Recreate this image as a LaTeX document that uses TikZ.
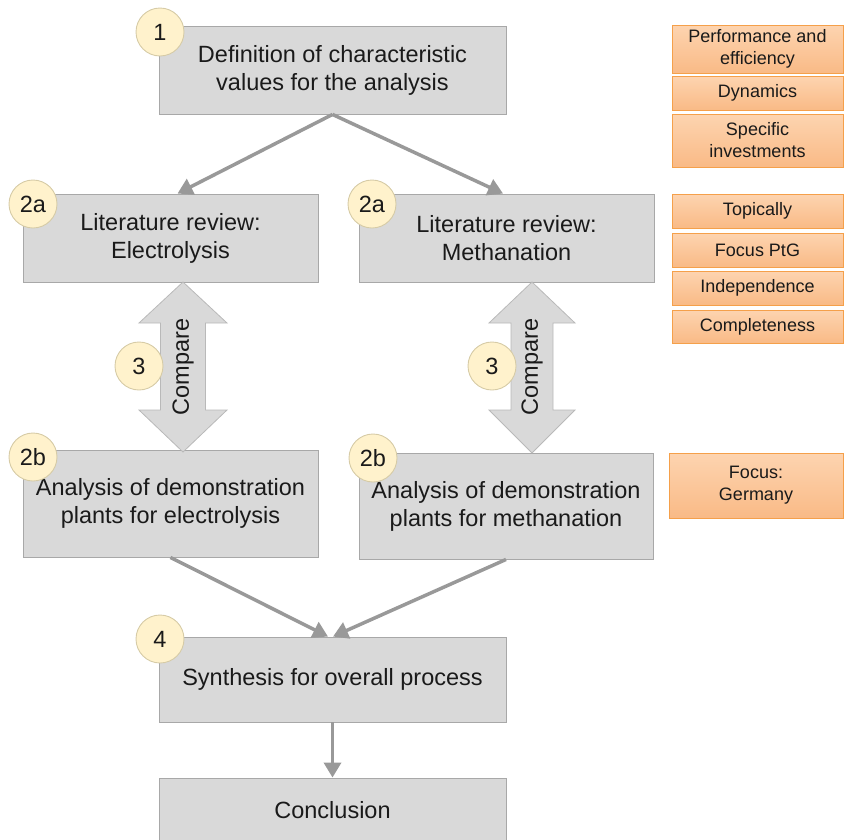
\documentclass[tikz,border=0pt]{standalone}
\usepackage{fontspec}
\setmainfont{Liberation Sans}
\usetikzlibrary{arrows.meta}
\definecolor{boxfill}{HTML}{D9D9D9}
\definecolor{boxline}{HTML}{A8A8A8}
\definecolor{circfill}{HTML}{FFF2CC}
\definecolor{circline}{HTML}{D6CBA6}
\definecolor{arrowcol}{HTML}{999999}
\definecolor{orline}{HTML}{F5A04A}
\definecolor{ortop}{HTML}{FDD4B0}
\definecolor{orbot}{HTML}{F9BA86}
\definecolor{txt}{HTML}{1A1A1A}
\tikzset{
  graybox/.style={draw=boxline, line width=0.9pt, fill=boxfill, inner sep=0pt, align=center,
    text=txt, font=\fontsize{23.5}{28}\selectfont},
  numcirc/.style={circle, draw=circline, line width=0.9pt, fill=circfill, minimum size=48pt,
    inner sep=0pt, text=txt, font=\fontsize{23.5}{28}\selectfont},
  orbox/.style={draw=orline, line width=0.9pt, top color=ortop, bottom color=orbot, inner sep=0pt,
    align=center, text=txt, font=\fontsize{18}{22}\selectfont},
  flow/.style={draw=arrowcol, line width=3.5pt, -{Triangle[length=15pt,width=17pt]}},
  dblarrow/.style={draw=boxline!80, line width=0.8pt, fill=boxfill},
  cmp/.style={rotate=90, text=txt, font=\fontsize{23.5}{28}\selectfont, inner sep=0pt}
}
\begin{document}
\begin{tikzpicture}[x=1pt,y=-1pt]
\useasboundingbox (0,0) rectangle (844,839);
% main boxes
\node[graybox, minimum width=347pt, minimum height=88pt] (b1) at (332.5,70) {Definition of characteristic\\values for the analysis};
\node[graybox, minimum width=295pt, minimum height=88pt] (b2al) at (170.5,238) {Literature review:\\Electrolysis};
\node[graybox, minimum width=295pt, minimum height=88pt] (b2ar) at (506.5,238) {Literature review:\\Methanation};
\node[graybox, minimum width=295pt, minimum height=107pt] (b2bl) at (170.5,503.5) {Analysis of demonstration\\plants for electrolysis};
\node[graybox, minimum width=294pt, minimum height=106pt] (b2br) at (506,506) {Analysis of demonstration\\plants for methanation};
\node[graybox, minimum width=347pt, minimum height=85pt] (b4) at (332.5,679.5) {Synthesis for overall process};
\node[graybox, minimum width=347pt, minimum height=64pt] (b5) at (332.5,810) {Conclusion};
% connectors
\draw[flow] (b1.south) -- ([xshift=7pt]b2al.north);
\draw[flow] (b1.south) -- ([xshift=-3.5pt]b2ar.north);
\draw[flow] (b2bl.south) -- ([xshift=-4.5pt]b4.north);
\draw[flow] (b2br.south) -- ([xshift=0.5pt]b4.north);
\draw[flow] (b4.south) -- (b5.north);
% compare double arrows
\draw[dblarrow] (183,282) -- (227,323) -- (205.5,323) -- (205.5,410) -- (227,410) -- (183,452)
  -- (139,410) -- (160.5,410) -- (160.5,323) -- (139,323) -- cycle;
\node[cmp] (cmpl) at (183,367) {Compare};
\draw[dblarrow] (532,282) -- (575,323) -- (553,323) -- (553,410) -- (575,410) -- (532,453)
  -- (489,410) -- (511,410) -- (511,323) -- (489,323) -- cycle;
\node[cmp] (cmpr) at (532,367) {Compare};
% number circles
\node[numcirc] (c1) at (160,32) {1};
\node[numcirc] (c2al) at (33,204) {2a};
\node[numcirc] (c2ar) at (372,204) {2a};
\node[numcirc] (c3l) at (139,366) {3};
\node[numcirc] (c3r) at (492,366) {3};
\node[numcirc] (c2bl) at (33,457) {2b};
\node[numcirc] (c2br) at (373,458) {2b};
\node[numcirc] (c4) at (160,639) {4};
% orange boxes
\node[orbox, minimum width=171pt, minimum height=48pt] (o1) at (757.5,49) {Performance and\\efficiency};
\node[orbox, minimum width=171pt, minimum height=34pt] (o2) at (757.5,93) {Dynamics};
\node[orbox, minimum width=171pt, minimum height=53pt] (o3) at (757.5,140.5) {Specific\\investments};
\node[orbox, minimum width=171pt, minimum height=34pt] (o4) at (757.5,211) {Topically};
\node[orbox, minimum width=171pt, minimum height=34pt] (o5) at (757.5,250) {Focus PtG};
\node[orbox, minimum width=171pt, minimum height=34pt] (o6) at (757.5,288) {Independence};
\node[orbox, minimum width=171pt, minimum height=33pt] (o7) at (757.5,326.5) {Completeness};
\node[orbox, minimum width=174pt, minimum height=65pt] (o8) at (756,485.5) {Focus:\\Germany};
\end{tikzpicture}
\end{document}
